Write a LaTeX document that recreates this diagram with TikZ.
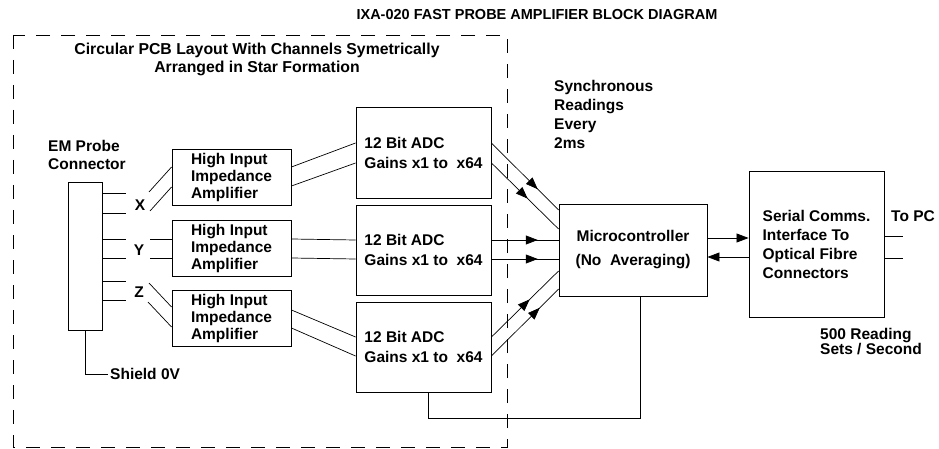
\documentclass[tikz,border=0pt]{standalone}
\usepackage{fontspec}
\setmainfont{Liberation Sans}
\usetikzlibrary{arrows.meta,decorations.markings}

\begin{document}
\begin{tikzpicture}[x=1pt,y=-1pt,
  every node/.style={inner sep=0pt,font=\fontsize{15.5}{19}\selectfont\bfseries},
  box/.style={draw,line width=0.9pt,align=left},
  ampbox/.style={box,minimum width=119pt,minimum height=56pt,font=\fontsize{15.5}{17}\selectfont\bfseries},
  adcbox/.style={box,minimum width=135pt,minimum height=90pt,font=\fontsize{15.5}{20}\selectfont\bfseries},
  wire/.style={line width=0.7pt},
  tip/.style={-{Triangle[length=12pt,width=9pt]}},
  midtip/.style={postaction={decorate},decoration={markings,
      mark=at position #1 with {\arrow{Triangle[length=12pt,width=9pt]}}}}]
  \useasboundingbox (0,0) rectangle (939,449);

  % board outline
  \draw[line width=0.9pt,dash pattern=on 14pt off 11pt] (13,35) rectangle (507,447);

  \node[font=\fontsize{14.5}{18}\selectfont\bfseries] (title) at (537,15) {IXA-020 FAST PROBE AMPLIFIER BLOCK DIAGRAM};
  \node[align=center,font=\fontsize{15.8}{18}\selectfont\bfseries] (layout) at (257,59)
    {Circular PCB Layout With Channels Symetrically\\Arranged in Star Formation};

  % probe connector
  \node[align=left,anchor=west,font=\fontsize{15.5}{18}\selectfont\bfseries] (probe) at (48,155) {EM Probe\\Connector};
  \node[box,minimum width=34pt,minimum height=148pt] (conn) at (85,256) {};
  \node (lx) at (140,205) {X};
  \node (ly) at (139,250) {Y};
  \node (lz) at (139,292) {Z};
  \node[anchor=west] (shield) at (110,374) {Shield 0V};

  \coordinate (s1) at (126,193);
  \coordinate (s2) at (126,213);
  \coordinate (s3) at (126,239);
  \coordinate (s4) at (126,258);
  \coordinate (s5) at (126,281);
  \coordinate (s6) at (126,300);
  \draw[wire] (conn.east |- s1) -- (s1);
  \draw[wire] (conn.east |- s2) -- (s2);
  \draw[wire] (conn.east |- s3) -- (s3);
  \draw[wire] (conn.east |- s4) -- (s4);
  \draw[wire] (conn.east |- s5) -- (s5);
  \draw[wire] (conn.east |- s6) -- (s6);
  \draw[wire] (conn.south) -- (conn.south |- shield.west) -- ([xshift=-2pt]shield.west);

  % amplifiers
  \node[ampbox] (amp1) at (231.5,177) {High Input\\Impedance\\Amplifier};
  \node[ampbox] (amp2) at (231.5,248.5) {High Input\\Impedance\\Amplifier};
  \node[ampbox] (amp3) at (231.5,318.5) {High Input\\Impedance\\Amplifier};

  \coordinate (xa) at (149,192);
  \coordinate (xb) at (150,211);
  \coordinate (ya) at (150,239);
  \coordinate (yb) at (150,258);
  \coordinate (za) at (149,283);
  \coordinate (zb) at (148,302);
  \draw[wire] (xa) -- ([yshift=10pt]amp1.west);
  \draw[wire] (xb) -- ([yshift=-10pt]amp1.west);
  \draw[wire] (ya) -- ([yshift=9.5pt]amp2.west);
  \draw[wire] (yb) -- ([yshift=-9.5pt]amp2.west);
  \draw[wire] (za) -- ([yshift=11.5pt]amp3.west);
  \draw[wire] (zb) -- ([yshift=-8.5pt]amp3.west);

  % converters
  \node[adcbox,minimum height=91pt] (adc1) at (423.5,152.5) {12 Bit ADC\\Gains x1 to\ \ x64};
  \node[adcbox] (adc2) at (423.5,250) {12 Bit ADC\\Gains x1 to\ \ x64};
  \node[adcbox] (adc3) at (423.5,347) {12 Bit ADC\\Gains x1 to\ \ x64};

  \draw[wire] ([yshift=10pt]amp1.east) -- ([yshift=9.5pt]adc1.west);
  \draw[wire] ([yshift=-9pt]amp1.east) -- ([yshift=-10.5pt]adc1.west);
  \draw[wire] ([yshift=9.5pt]amp2.east) -- ([yshift=10pt]adc2.west);
  \draw[wire] ([yshift=-9.5pt]amp2.east) -- ([yshift=-9pt]adc2.west);
  \draw[wire] ([yshift=8.5pt]amp3.east) -- ([yshift=10pt]adc3.west);
  \draw[wire] ([yshift=-9.5pt]amp3.east) -- ([yshift=-9pt]adc3.west);

  % microcontroller
  \node[box,align=center,minimum width=148pt,minimum height=92pt,font=\fontsize{15.5}{24}\selectfont\bfseries]
    (mcu) at (633,250) {Microcontroller\\(No\ \ Averaging)};
  \node[align=left,anchor=west] (sync) at (554,114.5) {Synchronous\\Readings\\Every\\2ms};

  \draw[wire,midtip=0.69] ([yshift=9.5pt]adc1.east) -- ([yshift=40pt]mcu.west);
  \draw[wire,midtip=0.54] ([yshift=-10.5pt]adc1.east) -- ([yshift=21pt]mcu.west);
  \draw[wire,midtip=0.69] ([yshift=10pt]adc2.east) -- ([yshift=10pt]mcu.west);
  \draw[wire,midtip=0.69] ([yshift=-9pt]adc2.east) -- ([yshift=-9pt]mcu.west);
  \draw[wire,midtip=0.57] ([yshift=10pt]adc3.east) -- ([yshift=-21pt]mcu.west);
  \draw[wire,midtip=0.72] ([yshift=-9pt]adc3.east) -- ([yshift=-39pt]mcu.west);
  \draw[wire] ([xshift=4.5pt]adc3.south) -- ++(0,26) -| ([xshift=7pt]mcu.south);

  % serial link
  \node[box,minimum width=135pt,minimum height=146pt] (serial) at (816.5,244)
    {Serial Comms.\\Interface To\\Optical Fibre\\Connectors};
  \draw[wire,tip] ([yshift=12pt]mcu.east) -- ([yshift=6pt]serial.west);
  \draw[wire,tip] ([yshift=-13pt]serial.west) -- ([yshift=-7pt]mcu.east);

  \coordinate (o1) at (903,236);
  \coordinate (o2) at (903,258);
  \draw[wire] (serial.east |- o1) -- (o1);
  \draw[wire] (serial.east |- o2) -- (o2);
  \node[anchor=west] (topc) at (891,216) {To PC};
  \node[align=left,anchor=west,font=\fontsize{15.5}{15}\selectfont\bfseries] (rate) at (820,341.5) {500 Reading\\Sets / Second};
\end{tikzpicture}
\end{document}
